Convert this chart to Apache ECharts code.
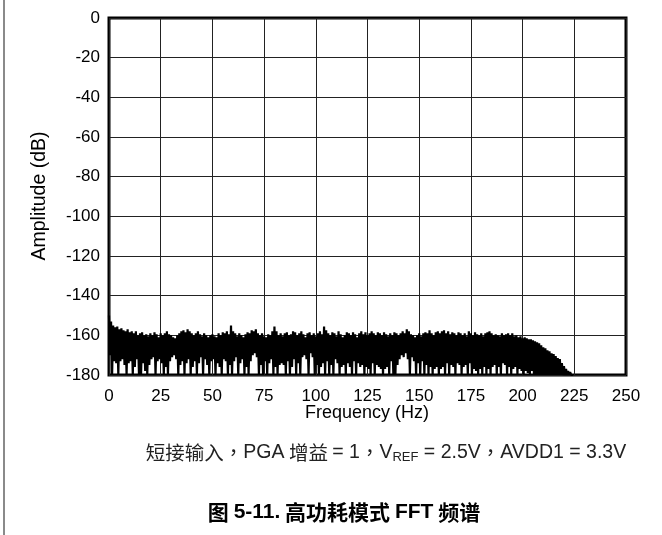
<!DOCTYPE html>
<html>
<head>
<meta charset="utf-8">
<script src="https://cdn.jsdelivr.net/npm/echarts@6/dist/echarts.min.js"></script>
<style>
  html, body { margin: 0; padding: 0; background: #fff; }
  #chart { width: 662px; height: 535px; }
</style>
</head>
<body>
<div id="chart"></div>
<script>
// FFT spectrum, shorted input, high-power mode.
// Each 1 Hz bin holds a peak reading (at f) and a trough reading (at f + 0.5 Hz).
const binWidthHz = 0.5;

const peakDb = [
  -150, -153, -155, -156, -155.5, -157, -156.5, -157.5, -158, -157,
  -158.5, -158, -159, -158, -160, -159, -158.5, -160, -159.5, -160.5,
  -159, -160, -158.5, -159.5, -161, -159, -160, -159, -158, -159.5,
  -160, -161, -161.5, -160, -159, -158, -157.5, -158.5, -157, -158,
  -159, -160, -159, -158, -159.5, -160.5, -159, -160, -161, -160,
  -159.5, -160.5, -161, -159, -160, -158.5, -159, -158, -159.5, -155,
  -158, -159, -160.5, -159, -160, -161, -159.5, -158.5, -159, -157.5,
  -158, -157, -159, -160, -159, -160.5, -161, -159.5, -160, -158,
  -155.5, -158, -160, -159, -160.5, -159, -158.5, -160, -159.5, -158,
  -158.5, -160, -159, -158, -159.5, -161, -159, -158.5, -160, -159,
  -160.5, -159, -158, -159.5, -155.5, -157.5, -159, -160, -158.5, -159,
  -160.5, -158, -159.5, -161, -160, -158.5, -159, -160, -158.5, -159.5,
  -161, -159, -158, -159.5, -158.5, -160, -159, -158, -159, -160,
  -158.5, -159, -160, -158.5, -159.5, -160.5, -159, -160, -158.5, -159,
  -160, -159, -158, -159, -157, -158, -159.5, -160, -161, -160,
  -159, -160.5, -159, -158.5, -159, -157.5, -159, -160, -158.5, -158,
  -159, -158, -157.5, -159, -158, -159.5, -158.5, -159, -160, -158.5,
  -159, -160, -159, -160.5, -158, -159, -160, -158.5, -159.5, -160,
  -159, -160.5, -159, -158.5, -158, -159, -160, -159.5, -160, -160.5,
  -159, -160, -159.5, -159, -160, -159, -160.5, -160, -161, -160.5,
  -161.5, -161, -161.5, -162, -162, -162.5, -163, -163.5, -164, -165,
  -166, -166.5, -167.5, -168, -169, -169.5, -170.5, -171.5, -172, -174,
  -175.5, -177, -178, -178.5, -179.5
];

const troughDb = [
  -170, -180, -173, -174, -180, -173, -172, -175, -180, -174,
  -173, -180, -176, -172, -180, -180, -174, -178, -180, -175,
  -172, -171, -180, -173, -172, -174, -180, -176, -180, -173,
  -171, -170, -172, -180, -175, -173, -180, -174, -172, -180,
  -176, -173, -180, -174, -171, -180, -172, -175, -180, -173,
  -172, -180, -174, -176, -180, -172, -173, -180, -175, -180,
  -173, -171, -180, -174, -172, -180, -176, -180, -173, -170,
  -169, -171, -180, -175, -180, -173, -180, -174, -172, -180,
  -176, -180, -175, -174, -175, -180, -173, -180, -176, -172,
  -180, -174, -180, -171, -170, -172, -180, -169, -171, -180,
  -175, -180, -176, -174, -180, -173, -180, -175, -180, -172,
  -174, -180, -176, -175, -180, -174, -176, -180, -173, -180,
  -174, -176, -175, -180, -176, -177, -180, -174, -180, -175,
  -176, -177, -180, -177, -176, -180, -173, -180, -180, -175,
  -172, -170, -171, -169, -172, -180, -171, -173, -180, -174,
  -180, -173, -180, -175, -180, -176, -180, -177, -176, -180,
  -177, -176, -180, -174, -180, -175, -176, -180, -174, -175,
  -180, -176, -175, -180, -174, -180, -177, -178, -180, -177,
  -180, -176, -180, -177, -180, -176, -175, -180, -176, -180,
  -174, -175, -180, -176, -180, -177, -176, -180, -177, -178,
  -180, -178, -179, -180, -178, -180, -180, -180, -180, -180,
  -180, -180, -180, -180, -180, -180, -180, -180, -180, -180,
  -180, -180, -180, -180, -180
];

const xTicks = { min: 0, max: 250, interval: 25 };
const yTicks = { min: -180, max: 0, interval: 20 };

// Interleave peaks and troughs into one trace ordered by frequency
const trace = [];
for (let k = 0; k < peakDb.length; k++) {
  trace.push([2 * k * binWidthHz, peakDb[k]]);
  trace.push([(2 * k + 1) * binWidthHz, troughDb[k]]);
}

const FONT = '"Liberation Sans", Arial, "Noto Sans CJK SC", sans-serif';
const CJK = '"Noto Sans CJK SC", "Liberation Sans", sans-serif';
const CJK_PUNCT = '"Noto Sans CJK TC", "Noto Sans CJK SC", sans-serif';

const chart = echarts.init(document.getElementById('chart'), null, { renderer: 'canvas' });
chart.setOption({
  animation: false,
  backgroundColor: '#fff',
  grid: {
    left: 109, right: 36, top: 18, bottom: 160,
    show: true, borderColor: '#000', borderWidth: 3, backgroundColor: 'transparent'
  },
  xAxis: {
    type: 'value',
    min: xTicks.min, max: xTicks.max, interval: xTicks.interval,
    axisLine: { show: false },
    axisTick: { show: false },
    axisLabel: { color: '#000', fontSize: 17, fontFamily: FONT, margin: 13 },
    splitLine: { show: true, lineStyle: { color: '#222', width: 1 } }
  },
  yAxis: {
    type: 'value',
    min: yTicks.min, max: yTicks.max, interval: yTicks.interval,
    axisLine: { show: false },
    axisTick: { show: false },
    axisLabel: { color: '#000', fontSize: 17, fontFamily: FONT, margin: 9 },
    splitLine: { show: true, lineStyle: { color: '#222', width: 1 } }
  },
  series: [{
    type: 'line',
    data: trace,
    showSymbol: false,
    symbol: 'none',
    sampling: null,
    clip: true,
    lineStyle: { color: '#000', width: 2.2 },
    z: 3
  }],
  graphic: [
    { type: 'line', shape: { x1: 4, y1: 0, x2: 4, y2: 535 }, style: { stroke: '#8a8a8a', lineWidth: 2 } },
    { type: 'text', x: 367, y: 413,
      style: { text: 'Frequency (Hz)', font: '18px ' + FONT, fill: '#000', align: 'center', verticalAlign: 'middle' } },
    { type: 'text', x: 40, y: 196, rotation: Math.PI / 2,
      style: { text: 'Amplitude (dB)', font: '19.5px ' + FONT, fill: '#000', align: 'center', verticalAlign: 'middle' } },
    { type: 'text', x: 386, y: 453,
      style: {
        text: '短接输入{c|，}{l|PGA} 增益 {l|= 1}{c|，}{l|V}{s|REF}{l| = 2.5V}{c|，}{l|AVDD1 = 3.3V}',
        font: '19.5px ' + CJK, fill: '#222', align: 'center', verticalAlign: 'middle',
        rich: {
          l: { font: '19.5px ' + FONT, fill: '#222' },
          c: { font: '19.5px ' + CJK_PUNCT, fill: '#222' },
          s: { font: '13px ' + FONT, fill: '#222', padding: [9, 0, 0, 0] }
        }
      } },
    { type: 'text', x: 344, y: 512,
      style: {
        text: '图 {l|5-11.} 高功耗模式 {l|FFT} 频谱',
        font: 'bold 21px ' + CJK, fill: '#000', align: 'center', verticalAlign: 'middle',
        rich: { l: { font: 'bold 21px ' + FONT, fill: '#000' } }
      } }
  ]
});
</script>
</body>
</html>
